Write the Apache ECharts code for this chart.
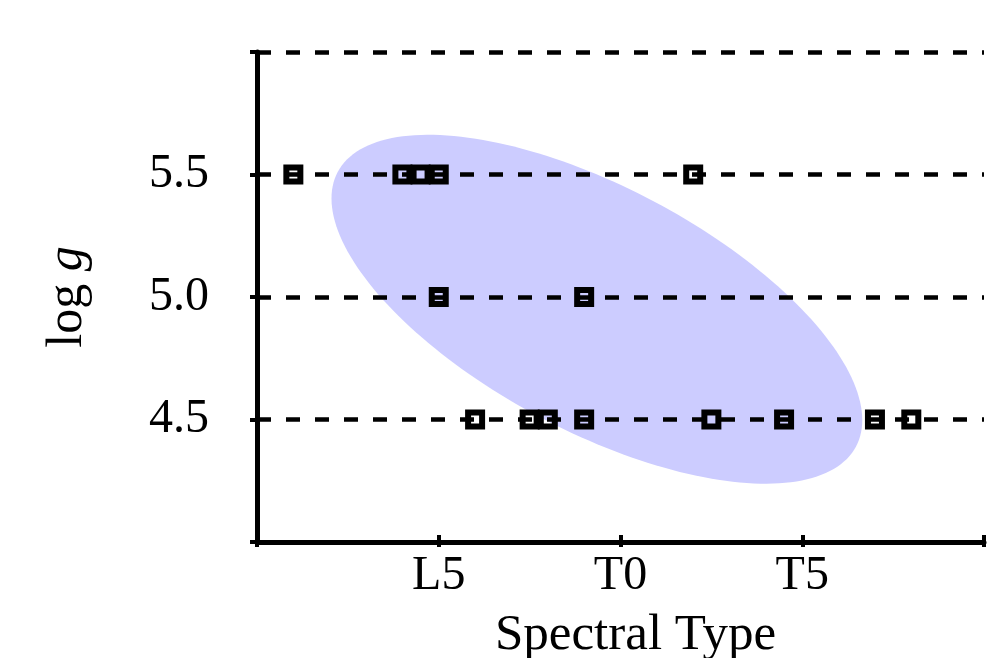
<!DOCTYPE html>
<html>
<head>
<meta charset="utf-8">
<script src="https://cdn.jsdelivr.net/npm/echarts@6/dist/echarts.min.js"></script>
<style>
  html, body { margin: 0; padding: 0; background: #fff; }
  #chart { width: 988px; height: 658px; }
</style>
</head>
<body>
<div id="chart"></div>
<script>
// ---------- data ----------
// spectral type as number: L0 = 10, L5 = 15, T0 = 20, T5 = 25
var xTickLabels = { 15: 'L5', 20: 'T0', 25: 'T5' };
var yTickLabels = { 4.5: '4.5', 5: '5.0', 5.5: '5.5' };

var sptLogg55 = [11, 14, 14.5, 15, 22];
var sptLogg50 = [15, 19];
var sptLogg45 = [16, 17.5, 18, 19, 22.5, 24.5, 27, 28];

// shaded region: centre and two conjugate semi-axes (data units)
var ellipseCenter = [19.35, 4.95];
var ellipseAxisA  = [7.13, -0.56];
var ellipseAxisB  = [-1.57, -0.44];

// ---------- build ----------
function rowPoints(xs, y) {
  return xs.map(function (x) { return [x, y]; });
}
var points = []
  .concat(rowPoints(sptLogg55, 5.5))
  .concat(rowPoints(sptLogg50, 5.0))
  .concat(rowPoints(sptLogg45, 4.5));

var font = 'Liberation Serif';
var chart = echarts.init(document.getElementById('chart'));

var option = {
  backgroundColor: '#fff',
  animation: false,
  grid: { left: 257, right: 4, top: 52, bottom: 116, outerBoundsMode: 'none', containLabel: false },
  xAxis: [
    {
      type: 'value',
      min: 10, max: 30, interval: 5,
      name: 'Spectral Type',
      nameLocation: 'middle',
      nameGap: 68,
      nameTextStyle: { fontFamily: font, fontSize: 51, color: '#000', padding: [0, 0, 0, 30] },
      axisLine: { lineStyle: { color: '#000', width: 5 } },
      axisTick: { length: 5, lineStyle: { color: '#000', width: 4 } },
      axisLabel: {
        fontFamily: font, fontSize: 48, color: '#000', margin: 10,
        formatter: function (v) { return xTickLabels[v] || ''; }
      },
      splitLine: { show: false }
    },
    {
      // inward half of the x ticks
      type: 'value',
      min: 10, max: 30, interval: 5,
      position: 'bottom',
      axisLine: { show: false },
      axisTick: { inside: true, length: 7, lineStyle: { color: '#000', width: 4 } },
      axisLabel: { show: false },
      splitLine: { show: false }
    }
  ],
  yAxis: {
    type: 'value',
    min: 4, max: 6, interval: 0.5,
    name: '{n|log }{g|g}',
    nameLocation: 'middle',
    nameRotate: 90,
    nameGap: 164,
    nameTextStyle: {
      fontFamily: font, fontSize: 50, color: '#000',
      rich: {
        n: { fontFamily: font, fontSize: 50, color: '#000' },
        g: { fontFamily: font, fontSize: 50, color: '#000', fontStyle: 'italic' }
      }
    },
    axisLine: { lineStyle: { color: '#000', width: 5 } },
    axisTick: { length: 7, lineStyle: { color: '#000', width: 4 } },
    axisLabel: {
      fontFamily: font, fontSize: 48, color: '#000', margin: 48,
      formatter: function (v) { return yTickLabels[v] || ''; }
    },
    splitLine: { lineStyle: { color: '#000', width: 4.5, type: [14, 15] } }
  },
  series: [
    {
      type: 'custom',
      z: -1,
      silent: true,
      data: [ellipseCenter],
      renderItem: function (params, api) {
        var cx = api.value(0), cy = api.value(1);
        var pts = [];
        for (var i = 0; i < 200; i++) {
          var t = i / 200 * Math.PI * 2;
          var c = Math.cos(t), s = Math.sin(t);
          pts.push(api.coord([
            cx + ellipseAxisA[0] * c + ellipseAxisB[0] * s,
            cy + ellipseAxisA[1] * c + ellipseAxisB[1] * s
          ]));
        }
        return { type: 'polygon', shape: { points: pts }, style: { fill: '#ccccff' } };
      }
    },
    {
      type: 'scatter',
      symbol: 'rect',
      symbolSize: 14,
      itemStyle: { color: 'transparent', borderColor: '#000', borderWidth: 6, opacity: 1 },
      data: points
    }
  ]
};

chart.setOption(option);
window.addEventListener('resize', function () { chart.resize(); });
</script>
</body>
</html>
